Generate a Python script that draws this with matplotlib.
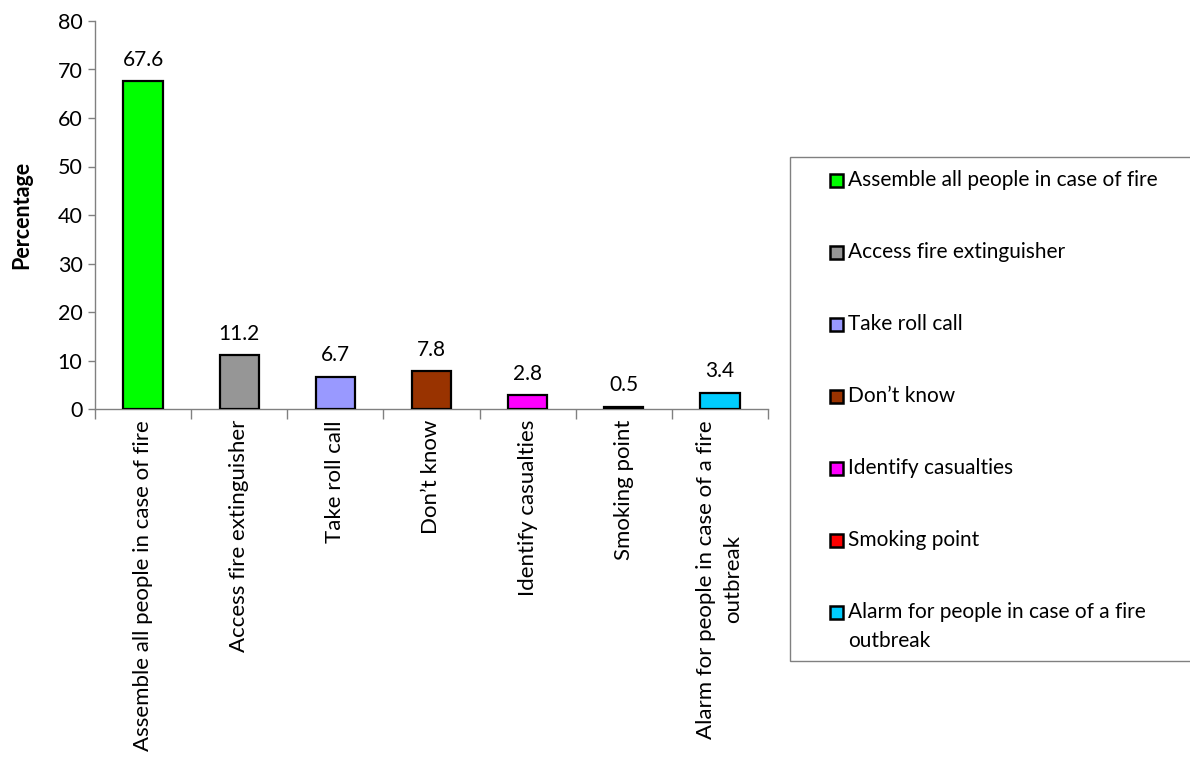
import matplotlib
matplotlib.use("Agg")
import matplotlib.pyplot as plt
from matplotlib.patches import Rectangle
import numpy as np

plt.rcParams["font.family"] = ["Lato", "DejaVu Sans"]

categories = [
    "Assemble all people in case of fire",
    "Access fire extinguisher",
    "Take roll call",
    "Don\u2019t know",
    "Identify casualties",
    "Smoking point",
    "Alarm for people in case of a fire\noutbreak",
]
values = [67.6, 11.2, 6.7, 7.8, 2.8, 0.5, 3.4]
colors = ["#00FF00", "#969696", "#9999FF", "#993300", "#FF00FF", "#FF0000", "#00CCFF"]
yticks = [0, 10, 20, 30, 40, 50, 60, 70, 80]

W, H = 1190, 764
fig = plt.figure(figsize=(W / 100, H / 100), dpi=100)
ax = fig.add_axes([95 / W, 1 - 409 / H, (768 - 95) / W, (409 - 21) / H])

x = np.arange(len(categories))
bars = ax.bar(x, values, width=0.41, color=colors, edgecolor="black", linewidth=1.6, zorder=3)

for xi, v in zip(x, values):
    ax.annotate(f"{v}", (xi, v), xytext=(0, 8), textcoords="offset points",
                ha="center", va="bottom", fontsize=15)

ax.set_xlim(-0.5, len(categories) - 0.5)
ax.set_ylim(0, 80)
ax.set_yticks(yticks)
ax.tick_params(axis="y", labelsize=15.5, length=5, width=1, color="#808080", pad=4)

# category labels at centres, tick marks at boundaries
ax.set_xticks(x)
ax.set_xticklabels(categories, rotation=90, fontsize=16, multialignment="center",
                   linespacing=1.45)
ax.tick_params(axis="x", which="major", length=0, pad=8)
ax.set_xticks(np.arange(len(categories) + 1) - 0.5, minor=True)
ax.tick_params(axis="x", which="minor", length=7, width=1, color="#808080", direction="out")

for s in ["top", "right"]:
    ax.spines[s].set_visible(False)
for s in ["left", "bottom"]:
    ax.spines[s].set_color("#808080")
    ax.spines[s].set_linewidth(1)

ax.set_ylabel("Percentage", fontsize=15.5, fontweight="bold", labelpad=18)

# legend box drawn by hand to match the spacing of the original
fig.add_artist(Rectangle((790 / W, 1 - 661 / H), 0.5, (661 - 157) / H,
                         transform=fig.transFigure, facecolor="white",
                         edgecolor="#808080", linewidth=1, clip_on=False))
for i, (lab, c) in enumerate(zip(categories, colors)):
    yc = 180 + 72 * i
    fig.add_artist(Rectangle((830 / W, 1 - (yc + 7) / H), 13 / W, 13 / H,
                             transform=fig.transFigure, facecolor=c,
                             edgecolor="black", linewidth=1.8))
    for j, line in enumerate(lab.split("\n")):
        fig.text(848 / W, 1 - (yc + 29 * j) / H, line, fontsize=15,
                 ha="left", va="center")

fig.savefig("out.png", dpi=100)
